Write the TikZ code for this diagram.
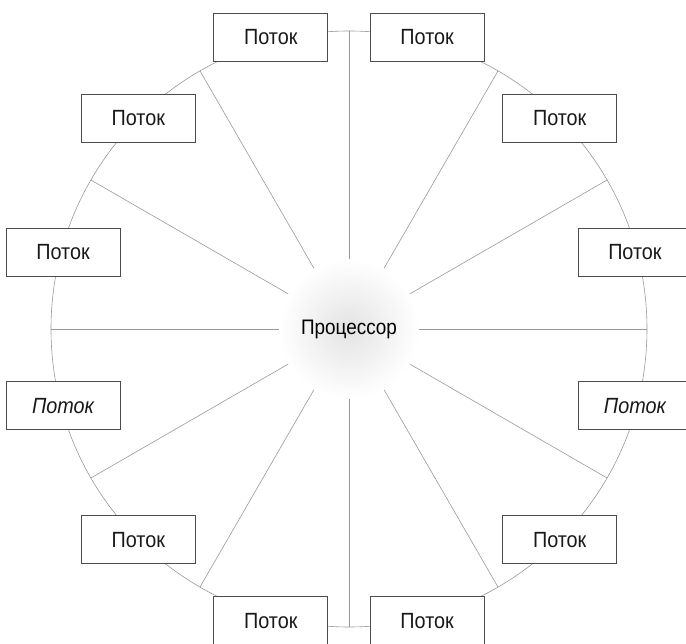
\documentclass[tikz,border=0pt]{standalone}
\usepackage{fontspec}
\setmainfont{Liberation Sans}[FakeStretch=0.9]
\usepackage{tikz}
\usetikzlibrary{positioning}

\begin{document}
\begin{tikzpicture}[
      x=1pt, y=1pt,
      thread/.style={rectangle, draw=black!70, line width=0.8pt, fill=white,
        minimum width=114pt, minimum height=48pt,
        font=\fontsize{22}{26}\selectfont, text=black!90},
      threadit/.style={thread, font=\fontsize{22}{26}\selectfont\itshape},
      proc/.style={circle, minimum size=140pt, inner color=black!11, outer color=white,
        font=\fontsize{21}{25}\selectfont, text=black},
      wire/.style={draw=black!40, line width=0.6pt}
    ]
      \useasboundingbox (-349,-315) rectangle (337,329);

      \node[proc] (cpu) at (0,0) {Процессор};
      \draw[wire] (cpu.center) circle (298);

      % spoke ends on the rim
      \coordinate (s0) at (0:298);
      \coordinate (s30) at (30:298);
      \coordinate (s60) at (60:298);
      \coordinate (s90) at (90:298);
      \coordinate (s120) at (120:298);
      \coordinate (s150) at (150:298);
      \coordinate (s180) at (180:298);
      \coordinate (s210) at (210:298);
      \coordinate (s240) at (240:298);
      \coordinate (s270) at (270:298);
      \coordinate (s300) at (300:298);
      \coordinate (s330) at (330:298);

      \draw[wire] (cpu.0) -- (s0);
      \draw[wire] (cpu.30) -- (s30);
      \draw[wire] (cpu.60) -- (s60);
      \draw[wire] (cpu.90) -- (s90);
      \draw[wire] (cpu.120) -- (s120);
      \draw[wire] (cpu.150) -- (s150);
      \draw[wire] (cpu.180) -- (s180);
      \draw[wire] (cpu.210) -- (s210);
      \draw[wire] (cpu.240) -- (s240);
      \draw[wire] (cpu.270) -- (s270);
      \draw[wire] (cpu.300) -- (s300);
      \draw[wire] (cpu.330) -- (s330);

      % threads
      \node[thread] (t1) at (75:302) {Поток};
      \node[thread] (t2) at (45:298) {Поток};
      \node[thread] (t3) at (15:296) {Поток};
      \node[threadit] (t4) at (-15:296) {Поток};
      \node[thread] (t5) at (-45:298) {Поток};
      \node[thread] (t6) at (-75:302) {Поток};
      \node[thread] (t7) at (-105:302) {Поток};
      \node[thread] (t8) at (-135:298) {Поток};
      \node[threadit] (t9) at (-165:296) {Поток};
      \node[thread] (t10) at (165:296) {Поток};
      \node[thread] (t11) at (135:298) {Поток};
      \node[thread] (t12) at (105:302) {Поток};
    \end{tikzpicture}
\end{document}
